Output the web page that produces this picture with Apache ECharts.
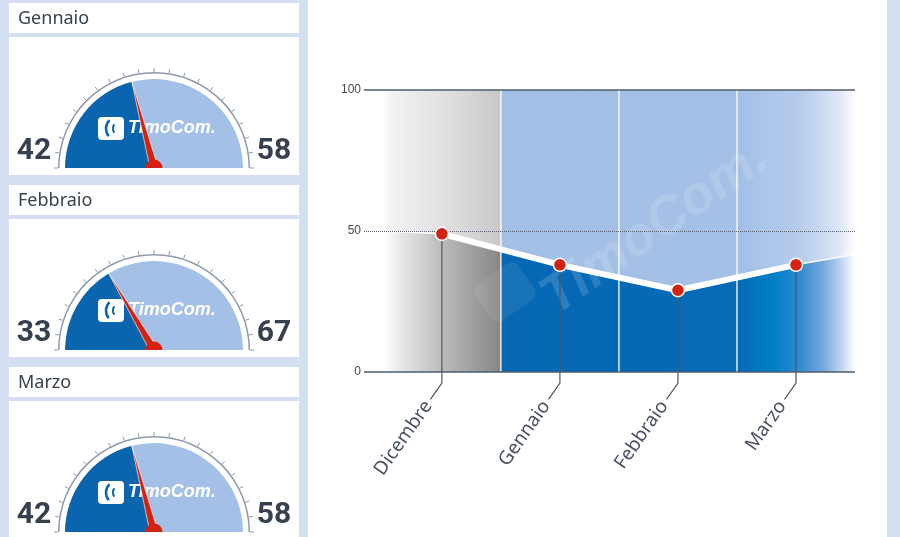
<!DOCTYPE html>
<html><head><meta charset="utf-8">
<script src="https://cdn.jsdelivr.net/npm/echarts@6/dist/echarts.min.js"></script>
<style>html,body{margin:0;padding:0;background:#d4e0f1}#c{width:900px;height:537px}</style>
</head><body><div id="c"></div>
<script>
// ---- data ----
const categories = ['Dicembre', 'Gennaio', 'Febbraio', 'Marzo'];
const values = [49, 38, 29, 38];
const edgeValues = [50, 41.7];          // area height at the left / right edge of the plot
const yTicks = [0, 50, 100];
const gaugeMonths = ['Gennaio', 'Febbraio', 'Marzo'];
const gaugeLeft = [42, 33, 42];
const gaugeRight = [58, 67, 58];

// ---- styles ----
const BG = '#d4e0f1';
const DARK = '#0a64ae', LIGHT = '#a4c0e6', RED = '#d3220f', TXT = '#38414e';
const LG = (stops) => new echarts.graphic.LinearGradient(0, 0, 1, 0, stops.map(s => ({offset: s[0], color: s[1]})));

const chart = echarts.init(document.getElementById('c'), null, {renderer: 'canvas'});

const n = categories.length;
const pts = values.map((v, i) => [i + 0.5, v]);
const areaData = [[0, edgeValues[0]], ...pts, [n, edgeValues[1]]];

const graphic = [
  {type: 'rect', z: 0, shape: {x: 308, y: 0, width: 579, height: 537}, style: {fill: '#ffffff'}},
  {type: 'text', z: 3, x: 655, y: 228, rotation: 35 * Math.PI / 180,
   style: {text: 'TimoCom.', fill: 'rgba(255,255,255,0.15)', font: 'italic bold 54px "Liberation Sans"', align: 'center', verticalAlign: 'middle'}},
  {type: 'rect', z: 3, x: 505, y: 292, rotation: 35 * Math.PI / 180, shape: {x: -26, y: -22, width: 52, height: 44, r: 8},
   style: {fill: 'rgba(255,255,255,0.08)'}}
];

const series = [];

// gauges
gaugeMonths.forEach((m, i) => {
  const titleTop = 3 + 182 * i;
  const cardTop = titleTop + 34;
  const cardBottom = Math.min(cardTop + 138, 537);
  const cx = 154, cy = cardTop + 131;
  graphic.push(
    {type: 'rect', z: 0, shape: {x: 9, y: titleTop, width: 290, height: 30}, style: {fill: '#fff'}},
    {type: 'rect', z: 0, shape: {x: 9, y: cardTop, width: 290, height: cardBottom - cardTop}, style: {fill: '#fff'}},
    {type: 'text', z: 1, x: 18, y: titleTop + 16, style: {text: m, fill: TXT, font: '18px "Noto Sans"', verticalAlign: 'middle'}},
    // logo
    {type: 'rect', z: 3, shape: {x: cx - 56, y: cy - 51, width: 26, height: 23, r: 4}, style: {fill: '#fff'}},
    {type: 'arc', z: 3, shape: {cx: cx - 36, cy: cy - 39.5, r: 12, startAngle: Math.PI * 0.78, endAngle: Math.PI * 1.25}, style: {stroke: DARK, lineWidth: 2.5, fill: null}},
    {type: 'arc', z: 3, shape: {cx: cx - 34, cy: cy - 39.5, r: 7, startAngle: Math.PI * 0.8, endAngle: Math.PI * 1.2}, style: {stroke: DARK, lineWidth: 2, fill: null}},
    {type: 'text', z: 3, x: cx - 26, y: cy - 40, style: {text: 'TimoCom.', fill: '#fff', font: 'italic bold 18px "Liberation Sans"', verticalAlign: 'middle'}},
    // hide lower half of hub
    {type: 'rect', z: 10, shape: {x: cx - 12, y: cy, width: 24, height: cardBottom - cy}, style: {fill: '#fff'}},
    {type: 'rect', z: 10, shape: {x: cx - 12, y: cardBottom, width: 24, height: 6}, style: {fill: BG}}
  );
  const common = {startAngle: 180, endAngle: 0, min: 0, max: 100, center: [cx, cy],
    axisTick: {show: false}, axisLabel: {show: false}, title: {show: false}};
  const numStyle = {color: '#36404e', fontSize: 30, fontWeight: 'bold', fontFamily: 'Roboto'};
  series.push({
    type: 'gauge', z: 2, radius: 89, ...common,
    axisLine: {lineStyle: {width: 89, color: [[gaugeLeft[i] / 100, DARK], [1, LIGHT]]}},
    splitLine: {show: false}, pointer: {show: false}, anchor: {show: false},
    detail: {show: true, offsetCenter: [-120, -17], formatter: () => String(gaugeLeft[i]), ...numStyle},
    data: [{value: gaugeLeft[i], name: m}]
  }, {
    type: 'gauge', z: 5, radius: 96, splitNumber: 20, ...common,
    axisLine: {lineStyle: {width: 1.5, color: [[1, '#8e9aaa']]}},
    splitLine: {show: true, length: 4, distance: -5.5, lineStyle: {color: '#8e9aaa', width: 1}},
    pointer: {show: true, length: '93%', width: 4, itemStyle: {color: RED, borderColor: '#fff', borderWidth: 0.6}},
    anchor: {show: true, showAbove: true, size: 17, itemStyle: {color: RED}},
    detail: {show: true, offsetCenter: [120, -17], formatter: () => String(gaugeRight[i]), ...numStyle},
    data: [{value: gaugeLeft[i], name: m}]
  });
});

// right chart
series.push({
  type: 'custom', name: 'bg', z: 1, xAxisIndex: 0, yAxisIndex: 0, silent: true,
  data: [[0, 1], [1, n]],
  renderItem: (params, api) => {
    const a = api.coord([api.value(0), yTicks[yTicks.length - 1]]);
    const b = api.coord([api.value(1), yTicks[0]]);
    const fill = params.dataIndex === 0
      ? LG([[0, '#ffffff'], [0.06, '#f3f3f3'], [0.5, '#e1e1e1'], [1, '#c8c8c8']])
      : LG([[0, '#a3bfe5'], [0.68, '#a4c0e6'], [0.84, '#b5ccec'], [0.9, '#c8d8f1'], [0.96, '#e0e9f7'], [1, '#ffffff']]);
    return {type: 'rect', shape: {x: a[0], y: a[1], width: b[0] - a[0], height: b[1] - a[1]}, style: {fill}};
  }
});
series.push({
  type: 'line', name: 'area', z: 2, data: areaData, showSymbol: false, silent: true,
  lineStyle: {color: 'rgba(255,255,255,0.9)', width: 1.5},
  areaStyle: {opacity: 1, color: LG([[0, '#ffffff'], [0.03, '#ececec'], [0.13, '#b9b9b9'], [0.25, '#868686'],
    [0.25, '#0668b4'], [0.75, '#066ab6'], [0.83, '#0080c6'], [0.88, '#2e88ce'], [0.93, '#72a6dd'], [0.97, '#bcd2f0'], [1, '#ffffff']])}
});
series.push({
  type: 'custom', name: 'dividers', z: 3, silent: true, clip: false,
  data: categories.slice(1).map((c, i) => [i + 1]),
  renderItem: (params, api) => {
    const a = api.coord([api.value(0), yTicks[yTicks.length - 1]]);
    const b = api.coord([api.value(0), yTicks[0]]);
    return {type: 'line', shape: {x1: a[0], y1: a[1], x2: b[0], y2: b[1]}, style: {stroke: 'rgba(255,255,255,0.85)', lineWidth: 1.5}};
  },
  markLine: {silent: true, symbol: 'none', label: {show: false}, lineStyle: {color: '#5a6372', type: 'dotted', width: 1}, data: [{yAxis: yTicks[1]}]}
});
series.push({
  type: 'custom', name: 'labels', z: 4, silent: true, clip: false,
  data: pts,
  renderItem: (params, api) => {
    const p = api.coord([api.value(0), api.value(1)]);
    const base = api.coord([api.value(0), 0]);
    const bendY = base[1] + 11;
    const ang = 55 * Math.PI / 180;
    const dx = -Math.cos(ang), dy = Math.sin(ang);
    const end = [p[0] + dx * 20, bendY + dy * 20];
    const t = [end[0] + dx * 4, end[1] + dy * 4];
    return {type: 'group', children: [
      {type: 'polyline', shape: {points: [p, [p[0], bendY], end]}, style: {stroke: '#4c5666', lineWidth: 1.2, fill: null}},
      {type: 'text', x: t[0], y: t[1], rotation: ang,
       style: {text: categories[params.dataIndex], align: 'right', verticalAlign: 'middle', fill: '#4a5364', fontSize: 19, fontFamily: 'Noto Sans'}}
    ]};
  }
});
series.push({
  type: 'line', name: 'values', z: 6, data: pts, symbol: 'circle', symbolSize: 13,
  lineStyle: {color: '#ffffff', width: 6, join: 'round'},
  itemStyle: {color: RED, borderColor: '#ffffff', borderWidth: 1.5}
});

chart.setOption({
  animation: false,
  backgroundColor: BG,
  graphic: graphic,
  grid: {left: 364, right: 45, top: 90, bottom: 165, containLabel: false},
  xAxis: {type: 'value', min: -0.16, max: n, show: false},
  yAxis: {type: 'value', min: yTicks[0], max: yTicks[yTicks.length - 1], interval: 50, z: 7,
    axisLine: {show: false}, axisTick: {show: false},
    axisLabel: {color: '#4a4a4a', fontSize: 12, fontFamily: 'Liberation Sans', margin: 3},
    splitLine: {show: true, lineStyle: {color: ['#505b69', 'rgba(0,0,0,0)', '#505b69'], width: 1.5}}},
  series: series
});
</script></body></html>
